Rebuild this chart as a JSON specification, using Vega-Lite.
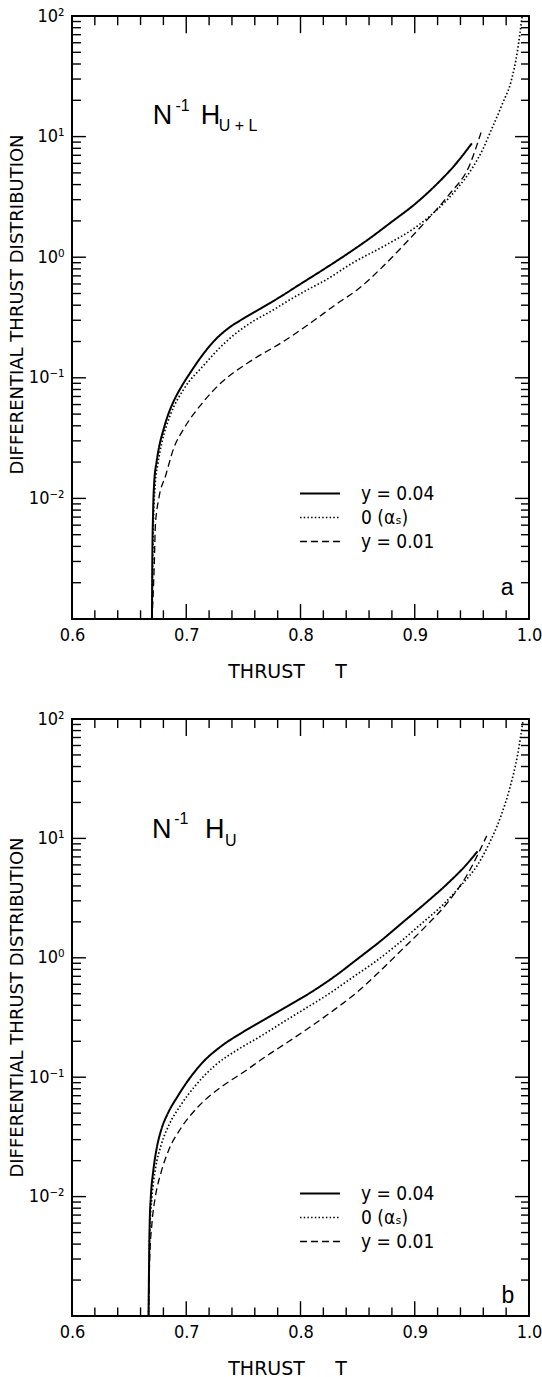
{
  "$schema": "https://vega.github.io/schema/vega-lite/v6.json",
  "padding": {"left": 7, "top": 6, "right": 0, "bottom": 0},
  "spacing": 27,
  "datasets": {
    "x_major": [{"T": 0.6}, {"T": 0.7}, {"T": 0.8}, {"T": 0.9}, {"T": 1.0}],
    "x_minor": [{"T": 0.62}, {"T": 0.64}, {"T": 0.66}, {"T": 0.68}, {"T": 0.72}, {"T": 0.74}, {"T": 0.76}, {"T": 0.78}, {"T": 0.82}, {"T": 0.84}, {"T": 0.86}, {"T": 0.88}, {"T": 0.92}, {"T": 0.94}, {"T": 0.96}, {"T": 0.98}],
    "y_major": [{"value": 0.001}, {"value": 0.01}, {"value": 0.1}, {"value": 1}, {"value": 10}, {"value": 100}],
    "y_minor": [
      {"value": 0.002}, {"value": 0.003}, {"value": 0.004}, {"value": 0.005}, {"value": 0.006}, {"value": 0.007}, {"value": 0.008}, {"value": 0.009},
      {"value": 0.02}, {"value": 0.03}, {"value": 0.04}, {"value": 0.05}, {"value": 0.06}, {"value": 0.07}, {"value": 0.08}, {"value": 0.09},
      {"value": 0.2}, {"value": 0.3}, {"value": 0.4}, {"value": 0.5}, {"value": 0.6}, {"value": 0.7}, {"value": 0.8}, {"value": 0.9},
      {"value": 2}, {"value": 3}, {"value": 4}, {"value": 5}, {"value": 6}, {"value": 7}, {"value": 8}, {"value": 9},
      {"value": 20}, {"value": 30}, {"value": 40}, {"value": 50}, {"value": 60}, {"value": 70}, {"value": 80}, {"value": 90}
    ],
    "curves_a": [
      {"T": 0.670, "value": 0.001, "series": "y = 0.04"},
      {"T": 0.6703, "value": 0.003, "series": "y = 0.04"},
      {"T": 0.671, "value": 0.0078, "series": "y = 0.04"},
      {"T": 0.672, "value": 0.0138, "series": "y = 0.04"},
      {"T": 0.674, "value": 0.020, "series": "y = 0.04"},
      {"T": 0.676, "value": 0.026, "series": "y = 0.04"},
      {"T": 0.680, "value": 0.037, "series": "y = 0.04"},
      {"T": 0.684, "value": 0.049, "series": "y = 0.04"},
      {"T": 0.689, "value": 0.064, "series": "y = 0.04"},
      {"T": 0.695, "value": 0.082, "series": "y = 0.04"},
      {"T": 0.704, "value": 0.112, "series": "y = 0.04"},
      {"T": 0.715, "value": 0.158, "series": "y = 0.04"},
      {"T": 0.725, "value": 0.205, "series": "y = 0.04"},
      {"T": 0.736, "value": 0.254, "series": "y = 0.04"},
      {"T": 0.750, "value": 0.31, "series": "y = 0.04"},
      {"T": 0.765, "value": 0.375, "series": "y = 0.04"},
      {"T": 0.780, "value": 0.455, "series": "y = 0.04"},
      {"T": 0.800, "value": 0.60, "series": "y = 0.04"},
      {"T": 0.820, "value": 0.79, "series": "y = 0.04"},
      {"T": 0.840, "value": 1.05, "series": "y = 0.04"},
      {"T": 0.860, "value": 1.42, "series": "y = 0.04"},
      {"T": 0.880, "value": 1.97, "series": "y = 0.04"},
      {"T": 0.900, "value": 2.75, "series": "y = 0.04"},
      {"T": 0.920, "value": 4.1, "series": "y = 0.04"},
      {"T": 0.935, "value": 5.8, "series": "y = 0.04"},
      {"T": 0.950, "value": 8.8, "series": "y = 0.04"},

      {"T": 0.670, "value": 0.001, "series": "0 (αₛ)"},
      {"T": 0.671, "value": 0.005, "series": "0 (αₛ)"},
      {"T": 0.673, "value": 0.0138, "series": "0 (αₛ)"},
      {"T": 0.675, "value": 0.019, "series": "0 (αₛ)"},
      {"T": 0.679, "value": 0.030, "series": "0 (αₛ)"},
      {"T": 0.686, "value": 0.049, "series": "0 (αₛ)"},
      {"T": 0.698, "value": 0.081, "series": "0 (αₛ)"},
      {"T": 0.715, "value": 0.126, "series": "0 (αₛ)"},
      {"T": 0.730, "value": 0.18, "series": "0 (αₛ)"},
      {"T": 0.745, "value": 0.24, "series": "0 (αₛ)"},
      {"T": 0.760, "value": 0.30, "series": "0 (αₛ)"},
      {"T": 0.775, "value": 0.36, "series": "0 (αₛ)"},
      {"T": 0.790, "value": 0.44, "series": "0 (αₛ)"},
      {"T": 0.805, "value": 0.53, "series": "0 (αₛ)"},
      {"T": 0.820, "value": 0.63, "series": "0 (αₛ)"},
      {"T": 0.846, "value": 0.90, "series": "0 (αₛ)"},
      {"T": 0.876, "value": 1.28, "series": "0 (αₛ)"},
      {"T": 0.900, "value": 1.75, "series": "0 (αₛ)"},
      {"T": 0.920, "value": 2.5, "series": "0 (αₛ)"},
      {"T": 0.937, "value": 3.7, "series": "0 (αₛ)"},
      {"T": 0.951, "value": 5.6, "series": "0 (αₛ)"},
      {"T": 0.960, "value": 8.0, "series": "0 (αₛ)"},
      {"T": 0.966, "value": 10.8, "series": "0 (αₛ)"},
      {"T": 0.977, "value": 19, "series": "0 (αₛ)"},
      {"T": 0.984, "value": 28, "series": "0 (αₛ)"},
      {"T": 0.990, "value": 52, "series": "0 (αₛ)"},
      {"T": 0.994, "value": 100, "series": "0 (αₛ)"},

      {"T": 0.670, "value": 0.001, "series": "y = 0.01"},
      {"T": 0.672, "value": 0.0028, "series": "y = 0.01"},
      {"T": 0.673, "value": 0.006, "series": "y = 0.01"},
      {"T": 0.676, "value": 0.010, "series": "y = 0.01"},
      {"T": 0.682, "value": 0.0155, "series": "y = 0.01"},
      {"T": 0.689, "value": 0.026, "series": "y = 0.01"},
      {"T": 0.698, "value": 0.038, "series": "y = 0.01"},
      {"T": 0.713, "value": 0.060, "series": "y = 0.01"},
      {"T": 0.730, "value": 0.090, "series": "y = 0.01"},
      {"T": 0.755, "value": 0.135, "series": "y = 0.01"},
      {"T": 0.785, "value": 0.20, "series": "y = 0.01"},
      {"T": 0.810, "value": 0.29, "series": "y = 0.01"},
      {"T": 0.830, "value": 0.40, "series": "y = 0.01"},
      {"T": 0.850, "value": 0.54, "series": "y = 0.01"},
      {"T": 0.870, "value": 0.80, "series": "y = 0.01"},
      {"T": 0.890, "value": 1.25, "series": "y = 0.01"},
      {"T": 0.910, "value": 2.0, "series": "y = 0.01"},
      {"T": 0.930, "value": 3.3, "series": "y = 0.01"},
      {"T": 0.948, "value": 5.8, "series": "y = 0.01"},
      {"T": 0.958, "value": 10.8, "series": "y = 0.01"}
    ],
    "curves_b": [
      {"T": 0.667, "value": 0.001, "series": "y = 0.04"},
      {"T": 0.6675, "value": 0.003, "series": "y = 0.04"},
      {"T": 0.668, "value": 0.006, "series": "y = 0.04"},
      {"T": 0.669, "value": 0.010, "series": "y = 0.04"},
      {"T": 0.671, "value": 0.016, "series": "y = 0.04"},
      {"T": 0.674, "value": 0.025, "series": "y = 0.04"},
      {"T": 0.678, "value": 0.036, "series": "y = 0.04"},
      {"T": 0.684, "value": 0.050, "series": "y = 0.04"},
      {"T": 0.692, "value": 0.068, "series": "y = 0.04"},
      {"T": 0.702, "value": 0.095, "series": "y = 0.04"},
      {"T": 0.715, "value": 0.135, "series": "y = 0.04"},
      {"T": 0.730, "value": 0.18, "series": "y = 0.04"},
      {"T": 0.750, "value": 0.24, "series": "y = 0.04"},
      {"T": 0.770, "value": 0.31, "series": "y = 0.04"},
      {"T": 0.790, "value": 0.40, "series": "y = 0.04"},
      {"T": 0.810, "value": 0.52, "series": "y = 0.04"},
      {"T": 0.830, "value": 0.70, "series": "y = 0.04"},
      {"T": 0.850, "value": 0.98, "series": "y = 0.04"},
      {"T": 0.870, "value": 1.38, "series": "y = 0.04"},
      {"T": 0.890, "value": 2.0, "series": "y = 0.04"},
      {"T": 0.910, "value": 2.9, "series": "y = 0.04"},
      {"T": 0.930, "value": 4.3, "series": "y = 0.04"},
      {"T": 0.945, "value": 6.0, "series": "y = 0.04"},
      {"T": 0.955, "value": 7.8, "series": "y = 0.04"},

      {"T": 0.667, "value": 0.001, "series": "0 (αₛ)"},
      {"T": 0.668, "value": 0.005, "series": "0 (αₛ)"},
      {"T": 0.670, "value": 0.010, "series": "0 (αₛ)"},
      {"T": 0.673, "value": 0.017, "series": "0 (αₛ)"},
      {"T": 0.678, "value": 0.027, "series": "0 (αₛ)"},
      {"T": 0.685, "value": 0.040, "series": "0 (αₛ)"},
      {"T": 0.695, "value": 0.058, "series": "0 (αₛ)"},
      {"T": 0.708, "value": 0.085, "series": "0 (αₛ)"},
      {"T": 0.725, "value": 0.125, "series": "0 (αₛ)"},
      {"T": 0.745, "value": 0.17, "series": "0 (αₛ)"},
      {"T": 0.765, "value": 0.22, "series": "0 (αₛ)"},
      {"T": 0.785, "value": 0.29, "series": "0 (αₛ)"},
      {"T": 0.805, "value": 0.38, "series": "0 (αₛ)"},
      {"T": 0.825, "value": 0.50, "series": "0 (αₛ)"},
      {"T": 0.845, "value": 0.68, "series": "0 (αₛ)"},
      {"T": 0.865, "value": 0.92, "series": "0 (αₛ)"},
      {"T": 0.885, "value": 1.30, "series": "0 (αₛ)"},
      {"T": 0.905, "value": 1.90, "series": "0 (αₛ)"},
      {"T": 0.925, "value": 2.8, "series": "0 (αₛ)"},
      {"T": 0.940, "value": 4.0, "series": "0 (αₛ)"},
      {"T": 0.955, "value": 6.0, "series": "0 (αₛ)"},
      {"T": 0.965, "value": 9.0, "series": "0 (αₛ)"},
      {"T": 0.975, "value": 15, "series": "0 (αₛ)"},
      {"T": 0.983, "value": 26, "series": "0 (αₛ)"},
      {"T": 0.990, "value": 50, "series": "0 (αₛ)"},
      {"T": 0.995, "value": 100, "series": "0 (αₛ)"},

      {"T": 0.667, "value": 0.001, "series": "y = 0.01"},
      {"T": 0.668, "value": 0.003, "series": "y = 0.01"},
      {"T": 0.670, "value": 0.006, "series": "y = 0.01"},
      {"T": 0.673, "value": 0.010, "series": "y = 0.01"},
      {"T": 0.678, "value": 0.016, "series": "y = 0.01"},
      {"T": 0.685, "value": 0.025, "series": "y = 0.01"},
      {"T": 0.695, "value": 0.037, "series": "y = 0.01"},
      {"T": 0.710, "value": 0.056, "series": "y = 0.01"},
      {"T": 0.730, "value": 0.082, "series": "y = 0.01"},
      {"T": 0.750, "value": 0.11, "series": "y = 0.01"},
      {"T": 0.770, "value": 0.15, "series": "y = 0.01"},
      {"T": 0.790, "value": 0.20, "series": "y = 0.01"},
      {"T": 0.810, "value": 0.27, "series": "y = 0.01"},
      {"T": 0.830, "value": 0.37, "series": "y = 0.01"},
      {"T": 0.850, "value": 0.52, "series": "y = 0.01"},
      {"T": 0.870, "value": 0.78, "series": "y = 0.01"},
      {"T": 0.890, "value": 1.20, "series": "y = 0.01"},
      {"T": 0.910, "value": 1.85, "series": "y = 0.01"},
      {"T": 0.930, "value": 3.0, "series": "y = 0.01"},
      {"T": 0.945, "value": 4.8, "series": "y = 0.01"},
      {"T": 0.963, "value": 10.5, "series": "y = 0.01"}
    ],
    "big_a": [
      {"T": 0.6707, "value": 12.6, "text": "N"},
      {"T": 0.7127, "value": 12.6, "text": "H"}
    ],
    "small_a": [
      {"T": 0.6905, "value": 16.4, "text": "-1"},
      {"T": 0.7284, "value": 11.2, "text": "U + L"}
    ],
    "tag_a": [{"T": 0.9808, "value": 0.00158, "text": "a"}],
    "big_b": [
      {"T": 0.6700, "value": 10.0, "text": "N"},
      {"T": 0.7164, "value": 10.0, "text": "H"}
    ],
    "small_b": [
      {"T": 0.6895, "value": 13.1, "text": "-1"},
      {"T": 0.7339, "value": 8.6, "text": "U"}
    ],
    "tag_b": [{"T": 0.9815, "value": 0.00129, "text": "b"}]
  },
  "vconcat": [
    {
      "width": 457,
      "height": 603,
      "layer": [
        {
          "data": {"name": "curves_a"},
          "mark": {"type": "line", "clip": true, "color": "#000", "interpolate": "monotone"},
          "encoding": {
            "x": {
              "field": "T", "type": "quantitative",
              "scale": {"domain": [0.6, 1.0], "nice": false, "zero": false},
              "axis": {"title": "THRUST\u00a0\u00a0\u00a0\u00a0\u00a0T", "values": [0.6, 0.7, 0.8, 0.9, 1.0], "format": ".1f"}
            },
            "y": {
              "field": "value", "type": "quantitative",
              "scale": {"type": "log", "domain": [0.001, 100], "nice": false},
              "axis": {
                "title": "DIFFERENTIAL THRUST DISTRIBUTION",
                "values": [0.001, 0.01, 0.1, 1, 10, 100],
                "labelExpr": "datum.value == 100 ? '10²' : datum.value == 10 ? '10¹' : datum.value == 1 ? '10⁰' : datum.value == 0.1 ? '10⁻¹' : datum.value == 0.01 ? '10⁻²' : ''"
              }
            },
            "strokeDash": {
              "field": "series", "type": "nominal",
              "scale": {"domain": ["y = 0.04", "0 (αₛ)", "y = 0.01"], "range": [[1, 0], [1.5, 2.2], [7, 4]]},
              "legend": {"title": null, "orient": "none", "legendX": 227, "legendY": 468}
            },
            "strokeWidth": {
              "field": "series", "type": "nominal",
              "scale": {"domain": ["y = 0.04", "0 (αₛ)", "y = 0.01"], "range": [2, 1.3, 1.6]},
              "legend": null
            }
          }
        },
        {
          "data": {"name": "x_major"},
          "mark": {"type": "rule", "color": "#000", "strokeWidth": 1.4},
          "encoding": {"x": {"field": "T", "type": "quantitative"}, "y": {"datum": 0.001, "type": "quantitative"}, "y2": {"datum": 0.00133}}
        },
        {
          "data": {"name": "x_major"},
          "mark": {"type": "rule", "color": "#000", "strokeWidth": 1.4},
          "encoding": {"x": {"field": "T", "type": "quantitative"}, "y": {"datum": 100, "type": "quantitative"}, "y2": {"datum": 72}}
        },
        {
          "data": {"name": "x_minor"},
          "mark": {"type": "rule", "color": "#000", "strokeWidth": 1.4},
          "encoding": {"x": {"field": "T", "type": "quantitative"}, "y": {"datum": 0.001, "type": "quantitative"}, "y2": {"datum": 0.00118}}
        },
        {
          "data": {"name": "x_minor"},
          "mark": {"type": "rule", "color": "#000", "strokeWidth": 1.4},
          "encoding": {"x": {"field": "T", "type": "quantitative"}, "y": {"datum": 100, "type": "quantitative"}, "y2": {"datum": 84}}
        },
        {
          "data": {"name": "y_major"},
          "mark": {"type": "rule", "color": "#000", "strokeWidth": 1.4},
          "encoding": {"y": {"field": "value", "type": "quantitative"}, "x": {"datum": 0.6, "type": "quantitative"}, "x2": {"datum": 0.6122}}
        },
        {
          "data": {"name": "y_major"},
          "mark": {"type": "rule", "color": "#000", "strokeWidth": 1.4},
          "encoding": {"y": {"field": "value", "type": "quantitative"}, "x": {"datum": 1.0, "type": "quantitative"}, "x2": {"datum": 0.9878}}
        },
        {
          "data": {"name": "y_minor"},
          "mark": {"type": "rule", "color": "#000", "strokeWidth": 1.4},
          "encoding": {"y": {"field": "value", "type": "quantitative"}, "x": {"datum": 0.6, "type": "quantitative"}, "x2": {"datum": 0.6079}}
        },
        {
          "data": {"name": "y_minor"},
          "mark": {"type": "rule", "color": "#000", "strokeWidth": 1.4},
          "encoding": {"y": {"field": "value", "type": "quantitative"}, "x": {"datum": 1.0, "type": "quantitative"}, "x2": {"datum": 0.993}}
        },
        {
          "data": {"name": "big_a"},
          "mark": {"type": "text", "fontSize": 27, "align": "left", "baseline": "alphabetic", "font": "Liberation Sans"},
          "encoding": {
            "x": {"field": "T", "type": "quantitative"},
            "y": {"field": "value", "type": "quantitative"},
            "text": {"field": "text"}
          }
        },
        {
          "data": {"name": "small_a"},
          "mark": {"type": "text", "fontSize": 16, "align": "left", "baseline": "alphabetic", "font": "Liberation Sans"},
          "encoding": {
            "x": {"field": "T", "type": "quantitative"},
            "y": {"field": "value", "type": "quantitative"},
            "text": {"field": "text"}
          }
        },
        {
          "data": {"name": "tag_a"},
          "mark": {"type": "text", "fontSize": 23, "align": "center", "baseline": "alphabetic", "font": "Liberation Sans"},
          "encoding": {
            "x": {"field": "T", "type": "quantitative"},
            "y": {"field": "value", "type": "quantitative"},
            "text": {"field": "text"}
          }
        }
      ]
    },
    {
      "width": 457,
      "height": 597,
      "layer": [
        {
          "data": {"name": "curves_b"},
          "mark": {"type": "line", "clip": true, "color": "#000", "interpolate": "monotone"},
          "encoding": {
            "x": {
              "field": "T", "type": "quantitative",
              "scale": {"domain": [0.6, 1.0], "nice": false, "zero": false},
              "axis": {"title": "THRUST\u00a0\u00a0\u00a0\u00a0\u00a0T", "values": [0.6, 0.7, 0.8, 0.9, 1.0], "format": ".1f"}
            },
            "y": {
              "field": "value", "type": "quantitative",
              "scale": {"type": "log", "domain": [0.001, 100], "nice": false},
              "axis": {
                "title": "DIFFERENTIAL THRUST DISTRIBUTION",
                "values": [0.001, 0.01, 0.1, 1, 10, 100],
                "labelExpr": "datum.value == 100 ? '10²' : datum.value == 10 ? '10¹' : datum.value == 1 ? '10⁰' : datum.value == 0.1 ? '10⁻¹' : datum.value == 0.01 ? '10⁻²' : ''"
              }
            },
            "strokeDash": {
              "field": "series", "type": "nominal",
              "scale": {"domain": ["y = 0.04", "0 (αₛ)", "y = 0.01"], "range": [[1, 0], [1.5, 2.2], [7, 4]]},
              "legend": {"title": null, "orient": "none", "legendX": 227, "legendY": 465}
            },
            "strokeWidth": {
              "field": "series", "type": "nominal",
              "scale": {"domain": ["y = 0.04", "0 (αₛ)", "y = 0.01"], "range": [2, 1.3, 1.6]},
              "legend": null
            }
          }
        },
        {
          "data": {"name": "x_major"},
          "mark": {"type": "rule", "color": "#000", "strokeWidth": 1.4},
          "encoding": {"x": {"field": "T", "type": "quantitative"}, "y": {"datum": 0.001, "type": "quantitative"}, "y2": {"datum": 0.00133}}
        },
        {
          "data": {"name": "x_major"},
          "mark": {"type": "rule", "color": "#000", "strokeWidth": 1.4},
          "encoding": {"x": {"field": "T", "type": "quantitative"}, "y": {"datum": 100, "type": "quantitative"}, "y2": {"datum": 72}}
        },
        {
          "data": {"name": "x_minor"},
          "mark": {"type": "rule", "color": "#000", "strokeWidth": 1.4},
          "encoding": {"x": {"field": "T", "type": "quantitative"}, "y": {"datum": 0.001, "type": "quantitative"}, "y2": {"datum": 0.00118}}
        },
        {
          "data": {"name": "x_minor"},
          "mark": {"type": "rule", "color": "#000", "strokeWidth": 1.4},
          "encoding": {"x": {"field": "T", "type": "quantitative"}, "y": {"datum": 100, "type": "quantitative"}, "y2": {"datum": 84}}
        },
        {
          "data": {"name": "y_major"},
          "mark": {"type": "rule", "color": "#000", "strokeWidth": 1.4},
          "encoding": {"y": {"field": "value", "type": "quantitative"}, "x": {"datum": 0.6, "type": "quantitative"}, "x2": {"datum": 0.6122}}
        },
        {
          "data": {"name": "y_major"},
          "mark": {"type": "rule", "color": "#000", "strokeWidth": 1.4},
          "encoding": {"y": {"field": "value", "type": "quantitative"}, "x": {"datum": 1.0, "type": "quantitative"}, "x2": {"datum": 0.9878}}
        },
        {
          "data": {"name": "y_minor"},
          "mark": {"type": "rule", "color": "#000", "strokeWidth": 1.4},
          "encoding": {"y": {"field": "value", "type": "quantitative"}, "x": {"datum": 0.6, "type": "quantitative"}, "x2": {"datum": 0.6079}}
        },
        {
          "data": {"name": "y_minor"},
          "mark": {"type": "rule", "color": "#000", "strokeWidth": 1.4},
          "encoding": {"y": {"field": "value", "type": "quantitative"}, "x": {"datum": 1.0, "type": "quantitative"}, "x2": {"datum": 0.993}}
        },
        {
          "data": {"name": "big_b"},
          "mark": {"type": "text", "fontSize": 27, "align": "left", "baseline": "alphabetic", "font": "Liberation Sans"},
          "encoding": {
            "x": {"field": "T", "type": "quantitative"},
            "y": {"field": "value", "type": "quantitative"},
            "text": {"field": "text"}
          }
        },
        {
          "data": {"name": "small_b"},
          "mark": {"type": "text", "fontSize": 16, "align": "left", "baseline": "alphabetic", "font": "Liberation Sans"},
          "encoding": {
            "x": {"field": "T", "type": "quantitative"},
            "y": {"field": "value", "type": "quantitative"},
            "text": {"field": "text"}
          }
        },
        {
          "data": {"name": "tag_b"},
          "mark": {"type": "text", "fontSize": 23, "align": "center", "baseline": "alphabetic", "font": "Liberation Sans"},
          "encoding": {
            "x": {"field": "T", "type": "quantitative"},
            "y": {"field": "value", "type": "quantitative"},
            "text": {"field": "text"}
          }
        }
      ]
    }
  ],
  "resolve": {
    "scale": {"strokeDash": "independent", "strokeWidth": "independent"},
    "legend": {"strokeDash": "independent", "strokeWidth": "independent"}
  },
  "config": {
    "view": {"stroke": "#000", "strokeWidth": 2},
    "font": "Liberation Sans",
    "axis": {
      "grid": false,
      "domain": false,
      "ticks": false,
      "tickSize": 0,
      "minExtent": 0,
      "labelColor": "#000",
      "labelFont": "Liberation Sans Narrow, DejaVu Sans Condensed, Liberation Sans",
      "labelFontSize": 18,
      "labelFlush": false,
      "labelOverlap": false,
      "titleColor": "#000",
      "titleFont": "DejaVu Sans",
      "titleFontWeight": "normal",
      "titleFontSize": 18
    },
    "axisX": {"labelPadding": 7, "titlePadding": 18, "titleFontSize": 19, "titleX": 215},
    "axisY": {"labelPadding": 8, "titlePadding": 2, "titleY": 288},
    "legend": {
      "symbolType": "stroke",
      "symbolSize": 1600,
      "symbolStrokeColor": "#000",
      "symbolStrokeWidth": 1.6,
      "labelFont": "Liberation Sans Narrow, DejaVu Sans Condensed, Liberation Sans",
      "labelFontSize": 19,
      "labelColor": "#000",
      "labelOffset": 20,
      "clipHeight": 19,
      "rowPadding": 4,
      "padding": 0
    }
  }
}
